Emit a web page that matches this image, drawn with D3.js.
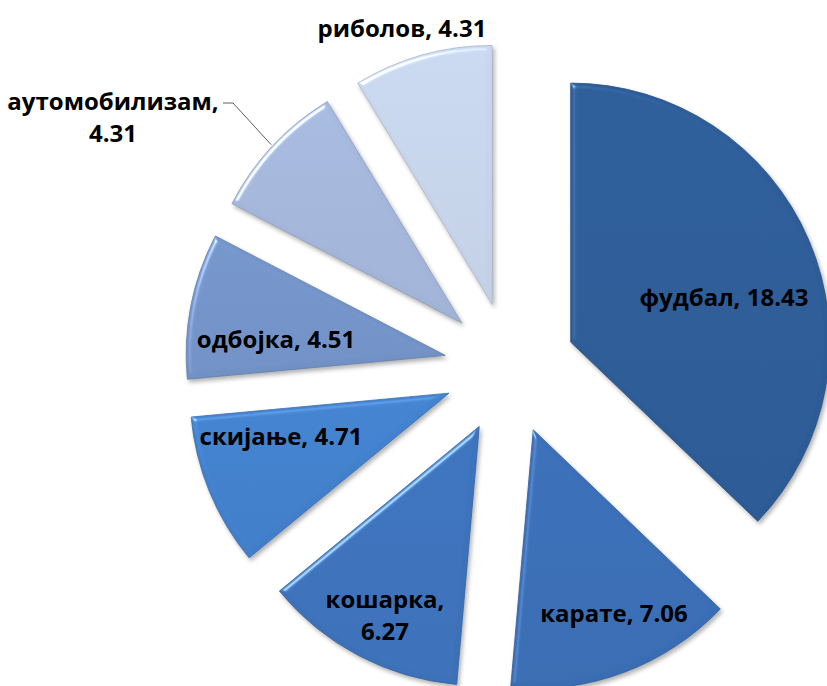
<!DOCTYPE html>
<html>
<head>
<meta charset="utf-8">
<script src="https://cdn.jsdelivr.net/npm/d3@7"></script>
<style>
  html, body { margin: 0; padding: 0; background: #fff; }
  svg { display: block; }
  text { font-family: "Open Sans", "Noto Sans", sans-serif; font-weight: bold; fill: #000; }
</style>
</head>
<body>
<svg id="chart" width="827" height="686"></svg>
<script>
// ---- data ----
const categories = ["фудбал", "карате", "кошарка", "скијање", "одбојка", "аутомобилизам", "риболов"];
const values = [18.43, 7.06, 6.27, 4.71, 4.51, 4.31, 4.31];
const valueLabels = ["18.43", "7.06", "6.27", "4.71", "4.51", "4.31", "4.31"];

// ---- layout / style ----
const W = 827, H = 686;
const cx = 510, cy = 368;
const R = 259;
const explode = 66;
const colors = ["#2D5C97", "#3A6EB5", "#3D72BB", "#4280CC", "#7393C8", "#A3B6DA", "#C6D3EA"];
// label centres (layout), line breaks per label
const labelLayout = [
  {x: 724, y: 298, lines: 1},
  {x: 614, y: 614, lines: 1},
  {x: 385, y: 600, lines: 2},
  {x: 281, y: 437, lines: 1},
  {x: 276, y: 340, lines: 1},
  {x: 113, y: 102, lines: 2},
  {x: 402, y: 29, lines: 1}
];
const fontSize = 24;
const lineGap = 32;

const svg = d3.select("#chart");
const defs = svg.append("defs");

// bevel + shadow filter
const f = defs.append("filter").attr("id", "bevel")
  .attr("color-interpolation-filters", "sRGB")
  .attr("x", "-10%").attr("y", "-10%").attr("width", "125%").attr("height", "125%");
f.append("feGaussianBlur").attr("in", "SourceAlpha").attr("stdDeviation", 2.5).attr("result", "blur");
const spec = f.append("feSpecularLighting").attr("in", "blur").attr("surfaceScale", 3)
  .attr("specularConstant", 0.45).attr("specularExponent", 40)
  .attr("lighting-color", "#ffffff").attr("result", "spec");
spec.append("feDistantLight").attr("azimuth", 225).attr("elevation", 40);
f.append("feComposite").attr("in", "spec").attr("in2", "SourceAlpha").attr("operator", "in").attr("result", "specIn");
f.append("feComposite").attr("in", "SourceGraphic").attr("in2", "specIn").attr("operator", "arithmetic")
  .attr("k1", 0).attr("k2", 1).attr("k3", 1).attr("k4", 0).attr("result", "lit");
f.append("feGaussianBlur").attr("in", "SourceAlpha").attr("stdDeviation", 2).attr("result", "sb");
f.append("feOffset").attr("in", "sb").attr("dx", 2).attr("dy", 3).attr("result", "so");
f.append("feFlood").attr("flood-color", "#000").attr("flood-opacity", 0.3).attr("result", "fl");
f.append("feComposite").attr("in", "fl").attr("in2", "so").attr("operator", "in").attr("result", "shadow");
const m = f.append("feMerge");
m.append("feMergeNode").attr("in", "shadow");
m.append("feMergeNode").attr("in", "lit");

// gradients per slice
colors.forEach((c, i) => {
  const g = defs.append("linearGradient").attr("id", "grad" + i)
    .attr("x1", 0).attr("y1", 0).attr("x2", 0).attr("y2", 1);
  g.append("stop").attr("offset", "0%").attr("stop-color", d3.color(c).brighter(0.06));
  g.append("stop").attr("offset", "100%").attr("stop-color", d3.color(c).darker(0.06));
});

const pie = d3.pie().sort(null).value(d => d.value).startAngle(0).endAngle(2 * Math.PI);
const data = categories.map((c, i) => ({cat: c, value: values[i], label: valueLabels[i], i}));
const arcs = pie(data);
const arc = d3.arc().innerRadius(0).outerRadius(R);

const root = svg.append("g").attr("transform", `translate(${cx},${cy})`);

function offset(d, dist) {
  const a = (d.startAngle + d.endAngle) / 2;
  return [Math.sin(a) * dist, -Math.cos(a) * dist];
}

root.selectAll("path.slice").data(arcs).enter().append("path")
  .attr("class", "slice")
  .attr("transform", d => { const o = offset(d, explode); return `translate(${o[0]},${o[1]})`; })
  .attr("d", arc)
  .attr("fill", d => `url(#grad${d.data.i})`)
  .attr("stroke", d => d3.color(colors[d.data.i]).darker(0.4))
  .attr("stroke-width", 0.8)
  .attr("filter", "url(#bevel)");

// leader line for аутомобилизам
const autoArc = arcs[5];
const o5 = offset(autoArc, explode);
const a5 = (autoArc.startAngle + autoArc.endAngle) / 2;
const endX = cx + o5[0] + Math.sin(a5) * (R + 2);
const endY = cy + o5[1] - Math.cos(a5) * (R + 2);
svg.append("path")
  .attr("d", `M${223},${103} L${233},${103} L${endX},${endY}`)
  .attr("fill", "none").attr("stroke", "#333").attr("stroke-width", 0.8);

// labels
const lg = svg.append("g");
arcs.forEach((d, i) => {
  const L = labelLayout[i];
  const t = lg.append("text").attr("text-anchor", "middle").attr("font-size", fontSize);
  if (L.lines === 1) {
    t.append("tspan").attr("x", L.x).attr("y", L.y).attr("dy", "0.35em")
      .text(`${d.data.cat}, ${d.data.label}`);
  } else {
    t.append("tspan").attr("x", L.x).attr("y", L.y).attr("dy", "0.35em").text(`${d.data.cat},`);
    t.append("tspan").attr("x", L.x).attr("y", L.y + lineGap).attr("dy", "0.35em").text(d.data.label);
  }
});
</script>
</body>
</html>
